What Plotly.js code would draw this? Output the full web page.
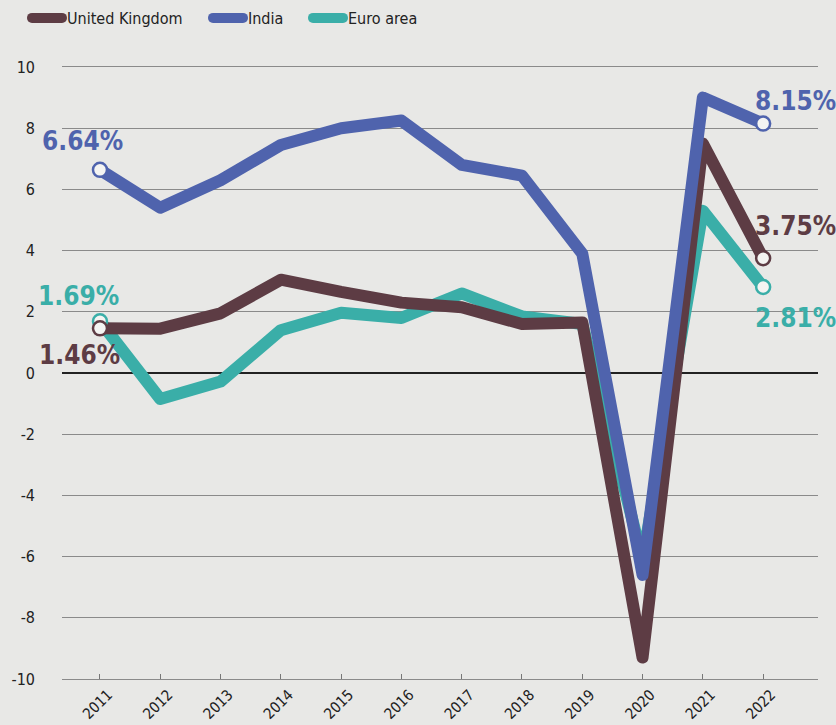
<!DOCTYPE html>
<html>
<head>
<meta charset="utf-8">
<script src="https://cdn.plot.ly/plotly-3.0.1.min.js"></script>
<style>
  html, body { margin: 0; padding: 0; background: #e8e8e6; }
  #chart { width: 836px; height: 725px; }
</style>
</head>
<body>
<div id="chart"></div>
<script>
// ---- data ----
const years = [2011, 2012, 2013, 2014, 2015, 2016, 2017, 2018, 2019, 2020, 2021, 2022];
const yearLabels = years.map(String);
const ukGrowth    = [1.46, 1.45, 1.95, 3.05, 2.65, 2.3, 2.15, 1.6, 1.65, -9.3, 7.5, 3.75];
const indiaGrowth = [6.64, 5.4, 6.3, 7.45, 8.0, 8.25, 6.8, 6.45, 3.9, -6.6, 9.0, 8.15];
const euroGrowth  = [1.69, -0.85, -0.28, 1.4, 1.97, 1.8, 2.6, 1.85, 1.6, -6.1, 5.3, 2.81];
const seriesNames = ['United Kingdom', 'India', 'Euro area'];
const yTicks = [-10, -8, -6, -4, -2, 0, 2, 4, 6, 8, 10];
const yTickLabels = ['-10', '-8', '-6', '-4', '-2', '0', '2', '4', '6', '8', '10'];

const colUK = '#5d3c44', colIN = '#4f63ad', colEU = '#3aaea8';
const FONT = '"DejaVu Sans Condensed", "Liberation Sans Narrow", Roboto, sans-serif';

function lineTrace(name, ys, color, legendId) {
  return { x: years, y: ys, name: name, type: 'scatter', mode: 'lines', legend: legendId,
           line: { color: color, width: 12 }, hoverinfo: 'skip' };
}
function endTrace(ys, color) {
  const last = ys.length - 1;
  return { x: [years[0], years[last]], y: [ys[0], ys[last]], type: 'scatter', mode: 'markers',
           showlegend: false, hoverinfo: 'skip',
           marker: { size: 14, color: '#f4f4f2', line: { color: color, width: 2.5 } } };
}

const traces = [
  lineTrace(seriesNames[2], euroGrowth, colEU, 'legend3'),
  lineTrace(seriesNames[0], ukGrowth, colUK, 'legend'),
  lineTrace(seriesNames[1], indiaGrowth, colIN, 'legend2'),
  endTrace(euroGrowth, colEU),
  endTrace(ukGrowth, colUK),
  endTrace(indiaGrowth, colIN)
];

function pctLabel(x, y, color, xs, ys) {
  return { x: x, y: y, xref: 'x', yref: 'y', text: '<b>' + y.toFixed(2) + '%</b>',
           showarrow: false, xshift: xs, yshift: ys,
           font: { family: FONT, size: 26, color: color } };
}
const L = years.length - 1;
const annotations = [
  pctLabel(years[0], indiaGrowth[0], colIN, -17, 29),
  pctLabel(years[0], euroGrowth[0], colEU, -21, 25),
  pctLabel(years[0], ukGrowth[0], colUK, -20, -27),
  pctLabel(years[L], indiaGrowth[L], colIN, 32, 23),
  pctLabel(years[L], ukGrowth[L], colUK, 32, 32),
  pctLabel(years[L], euroGrowth[L], colEU, 32, -31)
];

function legendBox(xpx) {
  return { orientation: 'h', x: (xpx - 62) / 756, xanchor: 'left', y: 1 + (67 - 18) / 612, yanchor: 'middle',
           font: { family: FONT, size: 16, color: '#222' }, bgcolor: 'rgba(0,0,0,0)', borderwidth: 0 };
}

const layout = {
  width: 836, height: 725,
  margin: { l: 62, r: 18, t: 67, b: 46, autoexpand: false },
  paper_bgcolor: '#e8e8e6', plot_bgcolor: '#e8e8e6',
  font: { family: FONT, size: 16, color: '#222' },
  showlegend: true,
  legend: legendBox(27),
  legend2: legendBox(208),
  legend3: legendBox(308),
  xaxis: { range: [2010.37, 2022.91], tickvals: years, ticktext: yearLabels, tickangle: -45,
           showgrid: false, zeroline: false,
           showline: true, mirror: true, linecolor: '#8a8a8a', linewidth: 1,
           ticks: 'inside', ticklen: 5, tickcolor: '#777', tickfont: { family: FONT, size: 15, color: '#222' },
           ticklabelstandoff: 0, ticklabelshift: 8, fixedrange: true },
  yaxis: { range: [-10, 10], tickvals: yTicks, ticktext: yTickLabels, showgrid: true, gridcolor: '#8a8a8a', gridwidth: 1,
           zeroline: true, zerolinecolor: '#222', zerolinewidth: 1.5, showline: false,
           ticks: '', ticklabelstandoff: 26, tickfont: { family: FONT, size: 16, color: '#222' },
           fixedrange: true },
  annotations: annotations
};

Plotly.newPlot('chart', traces, layout, { staticPlot: true }).then(function () {
  document.querySelectorAll('.js-line').forEach(function (p) {
    p.style.strokeLinejoin = 'round';
    p.style.strokeLinecap = 'round';
  });
});
</script>
</body>
</html>
